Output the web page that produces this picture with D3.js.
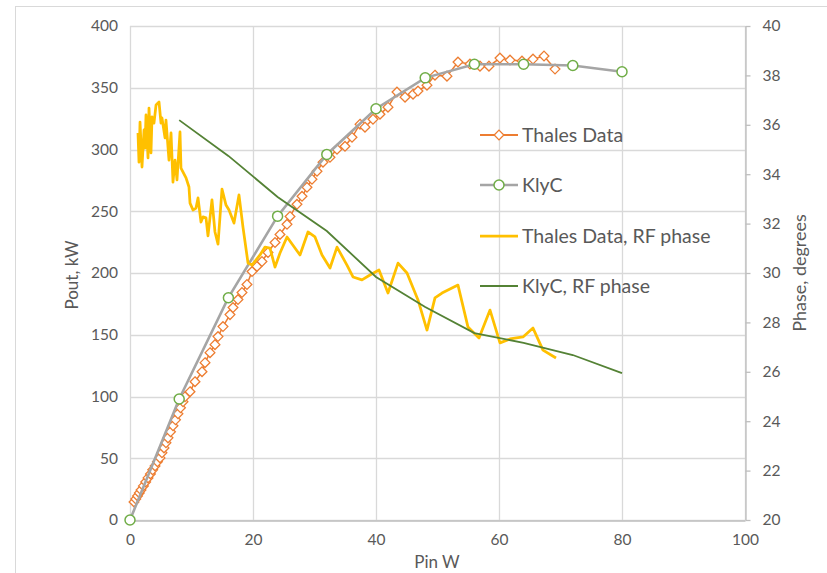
<!DOCTYPE html>
<html>
<head>
<meta charset="utf-8">
<script src="https://cdn.jsdelivr.net/npm/d3@7"></script>
<style>
  body { margin: 0; background: #fff; }
  text { font-family: Lato, "Open Sans", sans-serif; fill: #595959; }
</style>
</head>
<body>
<script>
const width = 827;
const height = 573;

// Thales Data: Pin (W) vs Pout (kW)
const thalesPin = [0.65, 0.94, 1.22, 1.51, 1.79, 2.18, 2.55, 2.93, 3.32, 3.69, 4.07, 4.46, 4.88,
  5.2, 5.53, 5.85, 6.18, 6.59, 6.99, 7.4, 7.8, 8.21, 8.62, 8.94, 9.76, 10.57, 11.71, 12.2, 13.01,
  13.82, 14.31, 15.12, 16.26, 16.75, 17.56, 18.21, 19.02, 19.84, 20.65, 21.46, 22.44, 23.58, 24.39,
  25.53, 26.02, 27.15, 27.97, 28.78, 29.59, 30.41, 31.38, 32.52, 33.66, 34.96, 36.1, 37.4, 38.21,
  39.51, 40.65, 41.95, 43.41, 44.72, 46.02, 46.83, 48.29, 49.59, 51.54, 53.33, 55.28, 56.91, 58.37,
  60.16, 61.79, 63.74, 65.53, 67.32, 69.11];
const thalesPout = [14.6, 17.0, 19.5, 21.9, 24.3, 27.6, 30.8, 34.1, 37.3, 40.6, 43.8, 47.1, 50.3,
  54.4, 58.4, 62.5, 66.5, 71.4, 76.3, 81.1, 86.0, 90.9, 95.7, 99.8, 103.9, 112.0, 120.1, 127.4, 135.5,
  142.0, 148.5, 156.6, 166.3, 172.0, 178.5, 184.2, 190.7, 201.2, 205.3, 209.3, 216.6, 224.7, 231.2,
  239.4, 245.8, 255.6, 262.1, 269.4, 275.9, 282.4, 289.7, 293.7, 300.2, 302.6, 309.9, 320.5, 318.1,
  324.5, 328.6, 334.3, 346.5, 342.4, 344.8, 347.3, 352.1, 360.2, 359.4, 370.8, 369.2, 367.5, 367.5,
  374.0, 372.4, 371.6, 373.2, 375.7, 365.1];

// KlyC simulation
const klycPin = [0, 8, 16, 24, 32, 40, 48, 56, 64, 72, 80];
const klycPout = [0, 98, 180, 246, 296, 333, 358, 369, 369, 368, 363];
const klycPhasePin = [8, 16, 24, 32, 40, 48, 56, 64, 72, 80];
const klycPhase = [36.19, 34.74, 33.08, 31.7, 29.84, 28.62, 27.57, 27.17, 26.68, 25.95];

// Thales Data, RF phase (degrees)
const phasePin = [1.3, 1.46, 1.63, 1.95, 2.28, 2.44, 2.6, 2.93, 3.09, 3.41, 3.58, 3.9, 4.23, 4.72,
  5.04, 5.2, 5.69, 5.85, 6.34, 6.67, 6.99, 7.32, 7.64, 8.13, 8.29, 9.11, 9.59, 9.76, 10.24, 10.73,
  11.06, 11.54, 11.87, 12.36, 12.68, 13.33, 13.82, 14.31, 14.96, 15.61, 16.1, 16.91, 17.72, 18.37,
  19.19, 19.84, 21.14, 21.95, 22.76, 23.58, 24.39, 25.53, 27.64, 28.94, 30.08, 31.22, 32.52, 33.66,
  35.28, 36.26, 37.72, 39.02, 40.49, 41.95, 43.58, 45.04, 46.83, 48.29, 49.59, 50.73, 52.03, 53.33,
  54.96, 56.75, 58.54, 60.16, 61.79, 63.9, 65.53, 67.15, 69.27];
const phaseVal = [35.67, 34.49, 36.11, 34.29, 35.79, 35.06, 36.4, 34.66, 36.68, 34.86, 36.32, 36.07,
  36.8, 36.92, 36.07, 36.28, 35.47, 36.19, 34.57, 35.67, 33.68, 34.57, 33.77, 35.71, 34.25, 33.85,
  33.48, 32.83, 32.55, 32.63, 33.04, 32.06, 32.27, 32.23, 31.5, 32.96, 31.66, 31.17, 33.4, 32.75,
  32.55, 32.02, 33.16, 31.86, 30.4, 30.32, 30.73, 31.05, 31.01, 30.24, 30.81, 31.46, 30.73, 31.66,
  31.46, 30.73, 30.2, 31.05, 30.32, 29.84, 29.72, 29.92, 30.12, 29.19, 30.4, 30.0, 28.91, 27.69,
  28.99, 29.19, 29.35, 29.51, 27.81, 27.37, 28.5, 27.17, 27.33, 27.41, 27.77, 26.88, 26.56];

const xTicks = [0, 20, 40, 60, 80, 100];
const yTicks = [0, 50, 100, 150, 200, 250, 300, 350, 400];
const y2Ticks = [20, 22, 24, 26, 28, 30, 32, 34, 36, 38, 40];

const seriesNames = ['Thales Data', 'KlyC', 'Thales Data, RF phase', 'KlyC, RF phase'];

const orange = '#ED7D31', grey = '#A5A5A5', mGreen = '#70AD47', yellow = '#FFC000', dGreen = '#548235';

const svg = d3.select('body').append('svg')
  .attr('width', width)
  .attr('height', height);

// chart frame
svg.append('rect')
  .attr('x', 15.5).attr('y', 6.5)
  .attr('width', 840).attr('height', 600)
  .attr('fill', 'none').attr('stroke', '#d9d9d9');

const x = d3.scaleLinear().domain([0, 100]).range([130, 745]);
const y = d3.scaleLinear().domain([0, 400]).range([520, 26]);
const y2 = d3.scaleLinear().domain([20, 40]).range([520, 26]);

// gridlines
const grid = svg.append('g').attr('stroke', '#d9d9d9').attr('stroke-width', 1.3);
grid.selectAll('.h').data(yTicks).enter().append('line')
  .attr('x1', x(0)).attr('x2', x(100))
  .attr('y1', d => Math.round(y(d)) + 0.5).attr('y2', d => Math.round(y(d)) + 0.5);
grid.selectAll('.v').data(xTicks).enter().append('line')
  .attr('y1', y(0)).attr('y2', y(400))
  .attr('x1', d => Math.round(x(d)) + 0.5).attr('x2', d => Math.round(x(d)) + 0.5);

// axes
const xAxis = svg.append('g')
  .attr('transform', `translate(0,${Math.round(y(0)) + 0.5})`)
  .call(d3.axisBottom(x).tickValues(xTicks).tickSize(0).tickPadding(13));
const yAxis = svg.append('g')
  .attr('transform', `translate(${x(0)},0)`)
  .call(d3.axisLeft(y).tickValues(yTicks).tickSize(0).tickPadding(12));
const y2Axis = svg.append('g')
  .attr('transform', `translate(${Math.round(x(100)) + 0.5},0)`)
  .call(d3.axisRight(y2).tickValues(y2Ticks).tickSize(5).tickSizeOuter(0).tickPadding(12));

[xAxis, yAxis, y2Axis].forEach(a => {
  a.selectAll('.domain').attr('stroke', '#bfbfbf').attr('stroke-width', 1.3);
  a.selectAll('.tick line').attr('stroke', '#bfbfbf').attr('stroke-width', 1.3);
  a.selectAll('text').attr('font-size', 15.5).attr('font-family', null).attr('fill', '#595959');
});
yAxis.select('.domain').remove();

svg.append('text')
  .attr('x', 437).attr('y', 568)
  .attr('text-anchor', 'middle').attr('font-size', 17)
  .text('Pin W');
svg.append('text')
  .attr('transform', 'translate(78,275) rotate(-90)')
  .attr('text-anchor', 'middle').attr('font-size', 17)
  .text('Pout, kW');
svg.append('text')
  .attr('transform', 'translate(806,273) rotate(-90)')
  .attr('text-anchor', 'middle').attr('font-size', 18)
  .text('Phase, degrees');

const diamond = d3.symbol().type(d3.symbolDiamond2).size(60);

// Thales Data
const thales = thalesPin.map((p, i) => [p, thalesPout[i]]);
svg.append('path').datum(thales)
  .attr('fill', 'none').attr('stroke', orange).attr('stroke-width', 1.5)
  .attr('d', d3.line().x(d => x(d[0])).y(d => y(d[1])));
svg.append('g').selectAll('path').data(thales).enter().append('path')
  .attr('d', diamond)
  .attr('transform', d => `translate(${x(d[0])},${y(d[1])})`)
  .attr('fill', '#fff').attr('stroke', orange).attr('stroke-width', 1.3);

// KlyC
const klyc = klycPin.map((p, i) => [p, klycPout[i]]);
svg.append('path').datum(klyc)
  .attr('fill', 'none').attr('stroke', grey).attr('stroke-width', 2.6)
  .attr('d', d3.line().x(d => x(d[0])).y(d => y(d[1])));

// Thales Data, RF phase
const phase = phasePin.map((p, i) => [p, phaseVal[i]]);
svg.append('path').datum(phase)
  .attr('fill', 'none').attr('stroke', yellow).attr('stroke-width', 2.75)
  .attr('stroke-linejoin', 'round')
  .attr('d', d3.line().x(d => x(d[0])).y(d => y2(d[1])));

// KlyC, RF phase
const kPhase = klycPhasePin.map((p, i) => [p, klycPhase[i]]);
svg.append('path').datum(kPhase)
  .attr('fill', 'none').attr('stroke', dGreen).attr('stroke-width', 1.8)
  .attr('d', d3.line().x(d => x(d[0])).y(d => y2(d[1])));

// KlyC markers on top
svg.append('g').selectAll('circle').data(klyc).enter().append('circle')
  .attr('cx', d => x(d[0])).attr('cy', d => y(d[1])).attr('r', 5)
  .attr('fill', '#fff').attr('stroke', mGreen).attr('stroke-width', 1.5);

// legend
const legend = svg.append('g');
const legY = [135, 185, 236, 286];
const legStroke = [orange, grey, yellow, dGreen];
const legWidth = [2, 2.6, 2.75, 1.8];
seriesNames.forEach((name, i) => {
  legend.append('line')
    .attr('x1', 480).attr('x2', 518)
    .attr('y1', legY[i]).attr('y2', legY[i])
    .attr('stroke', legStroke[i]).attr('stroke-width', legWidth[i]);
  if (i === 0) {
    legend.append('path').attr('d', diamond)
      .attr('transform', `translate(499,${legY[i]})`)
      .attr('fill', '#fff').attr('stroke', orange).attr('stroke-width', 1.3);
  }
  if (i === 1) {
    legend.append('circle').attr('cx', 499).attr('cy', legY[i]).attr('r', 5)
      .attr('fill', '#fff').attr('stroke', mGreen).attr('stroke-width', 1.5);
  }
  legend.append('text')
    .attr('x', 522).attr('y', legY[i]).attr('dy', '0.35em')
    .attr('font-size', 19.5)
    .text(name);
});
</script>
</body>
</html>
